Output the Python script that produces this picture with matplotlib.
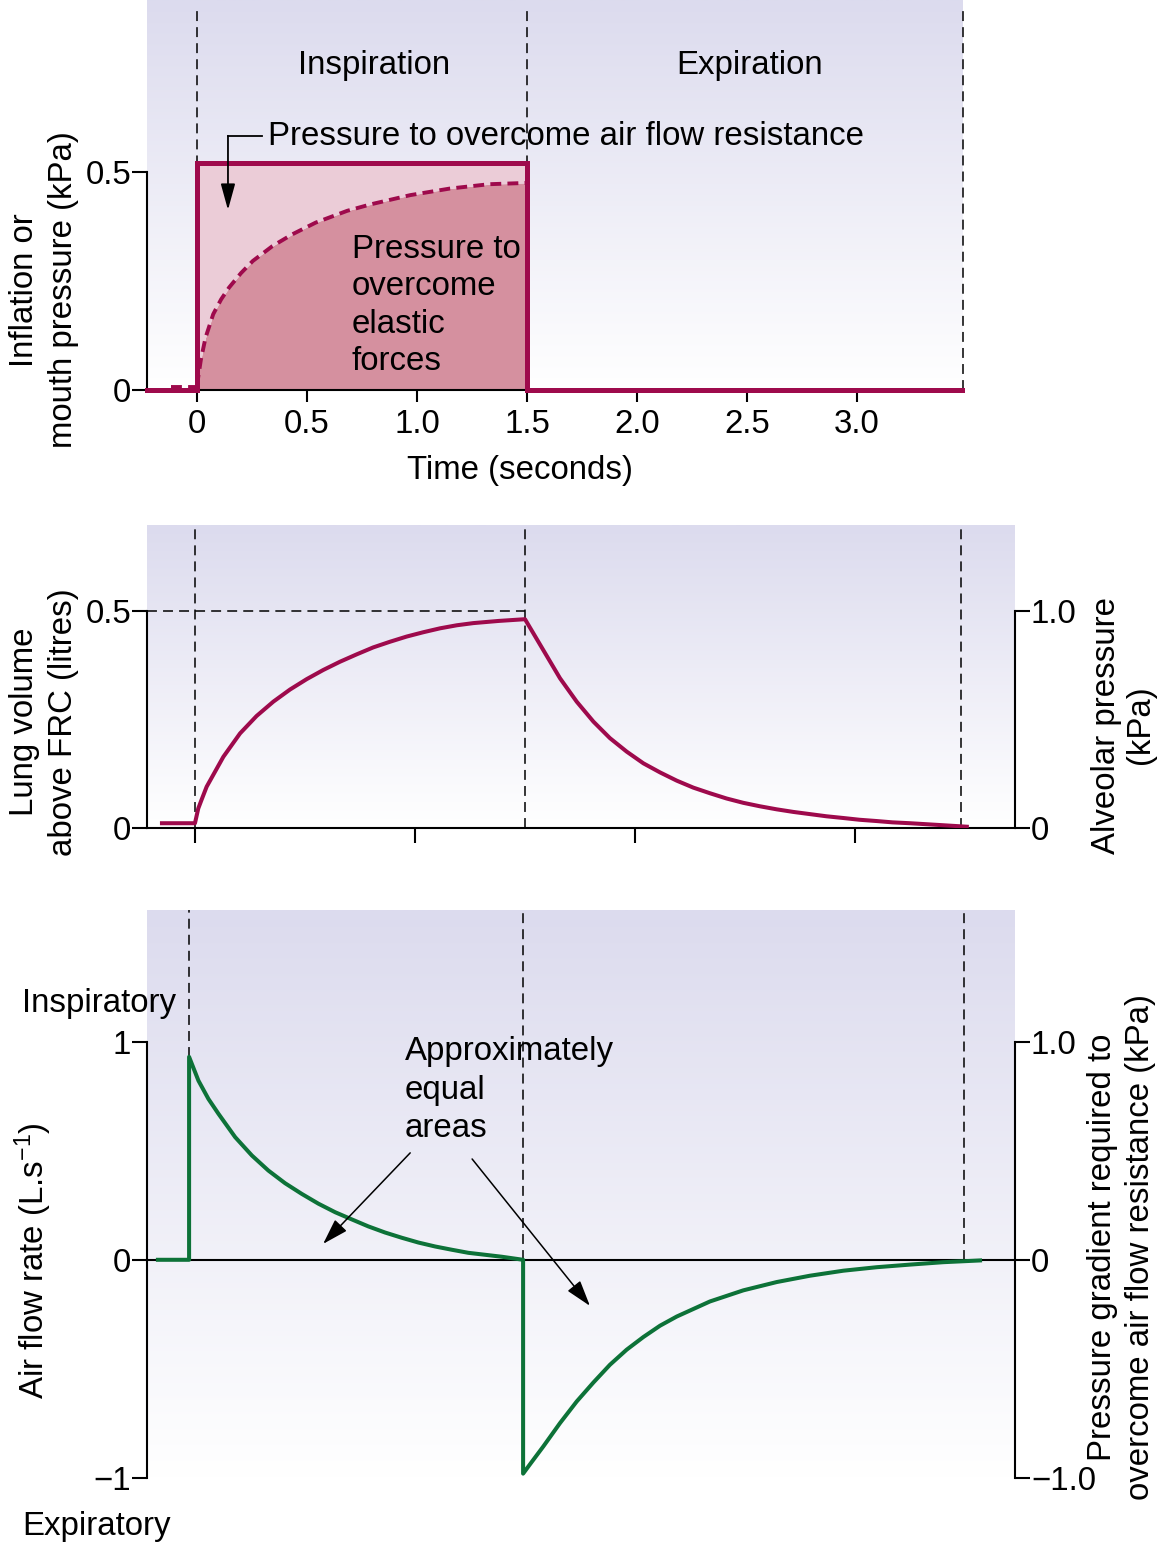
"""
Constant-pressure inflation: mouth pressure, lung volume and air flow.
Three stacked panels on a common time axis (seconds).
"""
import numpy as np
import matplotlib
matplotlib.use("Agg")
import matplotlib.pyplot as plt
from matplotlib.colors import LinearSegmentedColormap

# ── Data ─────────────────────────────────────────────────────────────────────

# Panel 1: inflation / mouth pressure (kPa)
pulse_t = [-0.227, 0.0, 0.0, 1.5, 1.5, 3.477]
pulse_p = [0.0, 0.0, 0.52, 0.52, 0.0, 0.0]
elastic_t = [0.0, 0.018, 0.039, 0.074, 0.11, 0.146, 0.20, 0.254, 0.343,
             0.433, 0.540, 0.683, 0.791, 0.970, 1.149, 1.328, 1.5]
elastic_p = [0.01, 0.07, 0.120, 0.174, 0.208, 0.235, 0.268, 0.296, 0.330,
             0.357, 0.384, 0.411, 0.426, 0.447, 0.462, 0.472, 0.475]
elastic_pre_t = [-0.12, 0.0]
elastic_pre_p = [0.008, 0.008]
time_ticks = [0, 0.5, 1.0, 1.5, 2.0, 2.5, 3.0]
time_labels = ["0", "0.5", "1.0", "1.5", "2.0", "2.5", "3.0"]
phase_bounds = [0.0, 1.5, 3.48]

# Panel 2: lung volume above FRC (litres)
volume_t = [-0.15, 0.0, 0.015, 0.030, 0.053, 0.129, 0.205, 0.280, 0.356,
            0.432, 0.508, 0.583, 0.659, 0.735, 0.810, 0.886, 0.962, 1.038,
            1.114, 1.19, 1.265, 1.38, 1.5, 1.583, 1.659, 1.735, 1.811,
            1.886, 1.962, 2.038, 2.114, 2.190, 2.265, 2.341, 2.416, 2.492,
            2.568, 2.644, 2.72, 2.795, 2.87, 2.947, 3.02, 3.099, 3.17, 3.25,
            3.38, 3.508]
volume_l = [0.011, 0.011, 0.045, 0.065, 0.095, 0.164, 0.218, 0.258, 0.291,
            0.319, 0.343, 0.364, 0.383, 0.400, 0.416, 0.429, 0.441, 0.451,
            0.460, 0.467, 0.472, 0.477, 0.481, 0.410, 0.345, 0.291, 0.245,
            0.207, 0.176, 0.149, 0.128, 0.109, 0.093, 0.080, 0.068, 0.058,
            0.050, 0.043, 0.037, 0.032, 0.027, 0.023, 0.019, 0.016, 0.013,
            0.011, 0.007, 0.003]
volume_ref = 0.5

# Panel 3: air flow rate (L/s)
flow_t = [-0.14, 0.0, 0.0, 0.042, 0.087, 0.132, 0.207, 0.282, 0.356, 0.431,
          0.506, 0.581, 0.656, 0.731, 0.805, 0.880, 0.955, 1.030, 1.105,
          1.180, 1.254, 1.329, 1.404, 1.5, 1.5, 1.531, 1.591, 1.666, 1.741,
          1.816, 1.890, 1.965, 2.040, 2.115, 2.190, 2.339, 2.489, 2.639,
          2.788, 2.938, 3.088, 3.238, 3.387, 3.552]
flow_v = [0.0, 0.0, 0.93, 0.821, 0.737, 0.669, 0.562, 0.478, 0.409, 0.351,
          0.302, 0.257, 0.218, 0.185, 0.153, 0.125, 0.101, 0.079, 0.061,
          0.046, 0.032, 0.023, 0.014, 0.0, -0.98, -0.937, -0.855, -0.748,
          -0.649, -0.562, -0.481, -0.412, -0.354, -0.302, -0.260, -0.191,
          -0.140, -0.102, -0.073, -0.050, -0.034, -0.022, -0.011, -0.003]

# ── Style ────────────────────────────────────────────────────────────────────
W, H, DPI = 1162, 1542, 100
FS = 23.8
MAGENTA = "#9e0a4c"
GREEN = "#0d7238"
LIGHT_PINK = "#ebccd7"
DARK_PINK = "#d5909f"
BG_TOP = "#dcdbee"
DASH = (0, (6.5, 4))

plt.rcParams["font.family"] = ["Liberation Sans", "DejaVu Sans"]
plt.rcParams["mathtext.fontset"] = "custom"
plt.rcParams["mathtext.rm"] = "Liberation Sans"
plt.rcParams["mathtext.it"] = "Liberation Sans:italic"
plt.rcParams["axes.unicode_minus"] = True


def box(left, top, right, bottom):
    return [left / W, 1 - bottom / H, (right - left) / W, (bottom - top) / H]


def ftext(x, y, s, **kw):
    kw.setdefault("fontsize", FS)
    fig.text(x / W, 1 - y / H, s, **kw)


def gradient(ax):
    cmap = LinearSegmentedColormap.from_list("bg", ["#ffffff", BG_TOP])
    grad = np.linspace(0, 1, 256).reshape(-1, 1)
    ax.imshow(grad, cmap=cmap, aspect="auto", extent=(0, 1, 0, 1),
              transform=ax.transAxes, origin="lower", zorder=0)


def style_ticks(ax, **kw):
    ax.tick_params(direction="out", length=10.5, width=1.5, labelsize=FS,
                   pad=1, color="black", **kw)


fig = plt.figure(figsize=(W / DPI, H / DPI), dpi=DPI)

# ── Panel 1: mouth pressure ─────────────────────────────────────────────────
ax1 = fig.add_axes(box(147, 0, 962, 390))
gradient(ax1)
ax1.set_xlim(-0.227, 3.477)
ax1.set_ylim(0, 0.8945)
for t in phase_bounds:
    ax1.plot([t, t], [0, 0.8945 * 0.985], color="black", lw=1.1, ls=DASH,
             zorder=1, clip_on=False)
ax1.fill_between(elastic_t, 0, elastic_p, color=DARK_PINK, lw=0, zorder=2)
ax1.fill_between(elastic_t, elastic_p, max(pulse_p), color=LIGHT_PINK, lw=0,
                 zorder=2)
ax1.plot(elastic_t, elastic_p, color=MAGENTA, lw=2.8, ls=(0, (2.8, 1.6)),
         zorder=3)
ax1.plot(elastic_pre_t, elastic_pre_p, color=MAGENTA, lw=2.8,
         ls=(0, (2.8, 1.6)), zorder=3)
ax1.plot(pulse_t, pulse_p, color=MAGENTA, lw=3.6, zorder=4,
         solid_joinstyle="miter", clip_on=False)

# elbow arrow for the resistive component
ax1.plot([0.141, 0.295], [0.583, 0.583], color="black", lw=1.3, zorder=5)
ax1.annotate("", xy=(0.141, 0.413), xytext=(0.141, 0.583),
             arrowprops=dict(arrowstyle="-|>,head_length=0.8,head_width=0.22",
                             color="black", lw=1.3, mutation_scale=20,
                             shrinkA=0, shrinkB=0), zorder=5)

for side in ("top", "right"):
    ax1.spines[side].set_visible(False)
ax1.spines["left"].set_bounds(0, 0.5)
for side in ("left", "bottom"):
    ax1.spines[side].set_linewidth(1.5)
ax1.set_yticks([0, 0.5], ["0", "0.5"])
ax1.set_xticks(time_ticks, time_labels)
style_ticks(ax1, axis="y")
ax1.tick_params(axis="x", direction="out", length=8.5, width=1.5,
                labelsize=FS, pad=5)

ftext(374, 74, "Inspiration", ha="center", va="baseline")
ftext(750, 74, "Expiration", ha="center", va="baseline")
ftext(268, 145, "Pressure to overcome air flow resistance", ha="left",
      va="baseline")
for i, line in enumerate(["Pressure to", "overcome", "elastic", "forces"]):
    ftext(352, 258 + i * 37.3, line, ha="left", va="baseline")
ftext(520, 470, "Time (seconds)", ha="center", va="center")
ftext(25, 290, "Inflation or", rotation=90, ha="center", va="center")
ftext(64, 290, "mouth pressure (kPa)", rotation=90, ha="center", va="center")

# ── Panel 2: lung volume ────────────────────────────────────────────────────
ax2 = fig.add_axes(box(147, 525, 1015, 828))
gradient(ax2)
ax2.set_xlim(-0.218, 3.727)
ax2.set_ylim(0, 0.698)
for t in phase_bounds:
    ax2.plot([t, t], [0, 0.698], color="black", lw=1.1, ls=DASH, zorder=1)
ax2.plot([-0.218, phase_bounds[1]], [volume_ref, volume_ref], color="black",
         lw=1.1, ls=DASH, zorder=1)
ax2.plot(volume_t, volume_l, color=MAGENTA, lw=2.9, zorder=4)
for side in ("top", "right"):
    ax2.spines[side].set_visible(False)
ax2.spines["left"].set_bounds(0, 0.5)
for side in ("left", "bottom"):
    ax2.spines[side].set_linewidth(1.5)
ax2.set_yticks([0, 0.5], ["0", "0.5"])
ax2.set_xticks([0, 1, 2, 3], [])
style_ticks(ax2)

ax2r = ax2.twinx()
ax2r.set_ylim(0, 0.698 * 2)
for side in ("top", "left", "bottom"):
    ax2r.spines[side].set_visible(False)
ax2r.spines["right"].set_bounds(0, 1.0)
ax2r.spines["right"].set_linewidth(1.5)
ax2r.set_yticks([0, 1.0], ["0", "1.0"])
style_ticks(ax2r)

ftext(25, 722, "Lung volume", rotation=90, ha="center", va="center")
ftext(64, 722, "above FRC (litres)", rotation=90, ha="center", va="center")
ftext(1107, 725, "Alveolar pressure", rotation=90, ha="center", va="center")
ftext(1141, 725, "(kPa)", rotation=90, ha="center", va="center")

# ── Panel 3: air flow ───────────────────────────────────────────────────────
ax3 = fig.add_axes(box(147, 910, 1015, 1478))
gradient(ax3)
ax3.set_xlim(-0.189, 3.709)
ax3.set_ylim(-1.0, 1.603)
ax3.axhline(0, color="black", lw=1.5, zorder=2)
peak = max(flow_v)
ax3.plot([phase_bounds[0]] * 2, [peak, 1.603], color="black", lw=1.1,
         ls=DASH, zorder=1)
for t in phase_bounds[1:]:
    ax3.plot([t, t], [0, 1.603], color="black", lw=1.1, ls=DASH, zorder=1)
ax3.plot(flow_t, flow_v, color=GREEN, lw=2.9, zorder=4)

arrow_kw = dict(arrowstyle="-|>,head_length=0.8,head_width=0.25",
                color="black", lw=1.1, mutation_scale=20, shrinkA=0,
                shrinkB=0)
ax3.annotate("", xy=(0.602, 0.073), xytext=(0.993, 0.490),
             arrowprops=arrow_kw, zorder=5)
ax3.annotate("", xy=(1.800, -0.211), xytext=(1.271, 0.462),
             arrowprops=arrow_kw, zorder=5)

for side in ("top", "right", "bottom"):
    ax3.spines[side].set_visible(False)
ax3.spines["left"].set_bounds(-1, 1)
ax3.spines["left"].set_linewidth(1.5)
ax3.set_yticks([-1, 0, 1], ["\u22121", "0", "1"])
ax3.set_xticks([])
style_ticks(ax3)

ax3r = ax3.twinx()
ax3r.set_ylim(-1.0, 1.603)
for side in ("top", "left", "bottom"):
    ax3r.spines[side].set_visible(False)
ax3r.spines["right"].set_bounds(-1, 1)
ax3r.spines["right"].set_linewidth(1.5)
ax3r.set_yticks([-1, 0, 1], ["\u22121.0", "0", "1.0"])
style_ticks(ax3r)

ftext(22, 1012, "Inspiratory", ha="left", va="baseline")
ftext(22, 1535, "Expiratory", ha="left", va="baseline")
for i, line in enumerate(["Approximately", "equal", "areas"]):
    ftext(405, 1060 + i * 38.7, line, ha="left", va="baseline")
ftext(33, 1261, "Air flow rate (L.s$^{\u22121}$)", rotation=90, ha="center",
      va="center")
ftext(1102, 1247, "Pressure gradient required to", rotation=90, ha="center",
      va="center")
ftext(1141, 1247, "overcome air flow resistance (kPa)", rotation=90,
      ha="center", va="center")

fig.savefig("out.png", dpi=DPI)
